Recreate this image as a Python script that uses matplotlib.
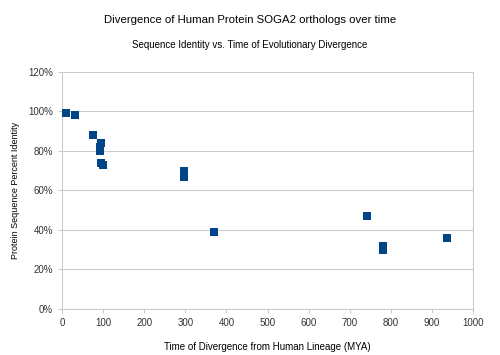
import matplotlib
matplotlib.use("Agg")
import matplotlib.pyplot as plt
from matplotlib.ticker import FuncFormatter

plt.rcParams['font.family'] = ['Liberation Sans', 'DejaVu Sans']

# time of divergence (MYA) and percent identity
mya = [10, 31, 75, 96, 92, 93, 96, 100, 296, 296, 371, 742, 782, 782, 937]
identity = [99, 98, 88, 84, 80, 82, 74, 73, 70, 67, 39, 47, 32, 30, 36]

fig = plt.figure(figsize=(5, 3.55), dpi=100)
ax = fig.add_axes([0.124, 0.1296, 0.822, 0.668])

ax.scatter(mya, identity, marker='s', s=30, color='#004586', zorder=3, linewidths=0)

ax.set_xlim(0, 1000)
ax.set_ylim(0, 120)
ax.set_xticks(range(0, 1001, 100))
ax.set_yticks(range(0, 121, 20))
ax.yaxis.set_major_formatter(FuncFormatter(lambda v, p: '%d%%' % v))
ax.grid(axis='y', color='#cccccc', linewidth=0.8)
ax.set_axisbelow(True)

for s in ['left', 'bottom', 'right']:
    ax.spines[s].set_color('#cccccc')
ax.spines['top'].set_visible(False)
ax.tick_params(axis='both', labelsize=7, length=3, colors='#333333')
ax.tick_params(axis='both', color='#cccccc')

ax.set_xlabel('Time of Divergence from Human Lineage (MYA)', fontsize=7, labelpad=10)
ax.set_ylabel('Protein Sequence Percent Identity', fontsize=6.5, labelpad=6)

fig.text(0.5, 0.945, 'Divergence of Human Protein SOGA2 orthologs over time',
         ha='center', va='center', fontsize=8.2)
fig.text(0.5, 0.872, 'Sequence Identity vs. Time of Evolutionary Divergence',
         ha='center', va='center', fontsize=7)

fig.savefig('out.png', dpi=100)
